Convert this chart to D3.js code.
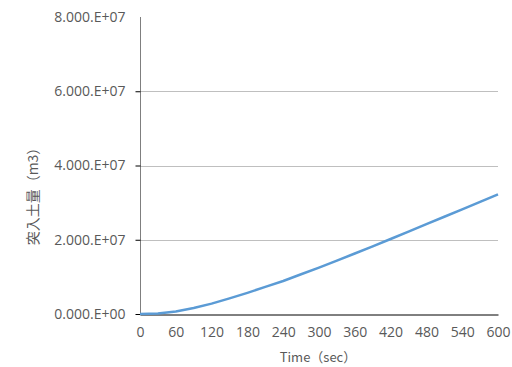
<!DOCTYPE html>
<html>
<head>
<meta charset="utf-8">
<script src="https://cdn.jsdelivr.net/npm/d3@7"></script>
<style>
  body { margin: 0; background: #fff; }
  svg { display: block; }
</style>
</head>
<body>
<div id="chart"></div>
<script>
// time (sec) and cumulative inflow volume
var times = [0, 30, 60, 90, 120, 150, 180, 210, 240, 270, 300, 330, 360, 390, 420, 450, 480, 510, 540, 570, 600];
var volumes = [0, 0.015e7, 0.07e7, 0.16e7, 0.28e7, 0.42e7, 0.57e7, 0.73e7, 0.89e7, 1.07e7, 1.25e7,
               1.44e7, 1.63e7, 1.82e7, 2.02e7, 2.22e7, 2.42e7, 2.62e7, 2.82e7, 3.02e7, 3.22e7];
var xTicks = [0, 60, 120, 180, 240, 300, 360, 420, 480, 540, 600];
var yTicks = [0, 2e7, 4e7, 6e7, 8e7];

var width = 512, height = 367;
var margin = {top: 17, right: 14, bottom: 53, left: 140};

var svg = d3.select("#chart")
  .append("svg")
  .attr("width", width)
  .attr("height", height);

var x = d3.scaleLinear()
  .domain([0, 600])
  .range([margin.left, width - margin.right]);

var y = d3.scaleLinear()
  .domain([0, 8e7])
  .range([height - margin.bottom, margin.top]);

// excel-ish label 8.000.E+07
function fmt(v) {
  if (v == 0) return "0.000.E+00";
  var e = Math.floor(Math.log10(v));
  var m = v / Math.pow(10, e);
  return m.toFixed(3) + ".E+" + (e < 10 ? "0" + e : e);
}

// gridlines (none at the top value)
svg.append("g")
  .selectAll("line")
  .data(yTicks.filter(function(d) { return d > 0 && d < 8e7; }))
  .enter()
  .append("line")
    .attr("x1", x(0))
    .attr("x2", x(600))
    .attr("y1", function(d) { return Math.round(y(d)) + 0.5; })
    .attr("y2", function(d) { return Math.round(y(d)) + 0.5; })
    .attr("stroke", "#bfbfbf")
    .attr("stroke-width", 1);

// y axis
var yAxis = svg.append("g")
  .attr("transform", "translate(" + (x(0) + 0.5) + ",0)")
  .call(d3.axisLeft(y).tickValues(yTicks).tickSize(5).tickFormat(fmt).tickPadding(10));
yAxis.select(".domain").attr("stroke", "#7f7f7f").attr("d", "M0," + y(8e7) + "V" + y(0));
yAxis.selectAll(".tick line").attr("stroke", "#000");
yAxis.selectAll(".tick text")
  .attr("fill", "#595959")
  .style("font-family", "'Open Sans', sans-serif")
  .style("font-size", "14px");
yAxis.selectAll(".tick").filter(function(d) { return d == 8e7; }).select("line").remove();

// x axis
var xAxis = svg.append("g")
  .attr("transform", "translate(0," + (Math.round(y(0)) + 0.5) + ")")
  .call(d3.axisBottom(x).tickValues(xTicks).tickSize(0).tickPadding(13));
xAxis.select(".domain").attr("stroke", "#000");
xAxis.selectAll(".tick text")
  .attr("fill", "#595959")
  .style("font-family", "'Open Sans', sans-serif")
  .style("font-size", "14px");

// the curve
var line = d3.line()
  .x(function(d, i) { return x(times[i]); })
  .y(function(d) { return y(d); });

svg.append("path")
  .datum(volumes)
  .attr("d", line)
  .attr("fill", "none")
  .attr("stroke", "#5b9bd5")
  .attr("stroke-width", 2.5)
  .attr("stroke-linejoin", "round");

// axis titles
svg.append("text")
  .attr("x", 318)
  .attr("y", 362)
  .attr("text-anchor", "middle")
  .attr("fill", "#595959")
  .style("font-family", "'Noto Sans CJK JP', sans-serif")
  .style("font-size", "13px")
  .text("Time（sec）");

svg.append("text")
  .attr("transform", "translate(38,193) rotate(-90)")
  .attr("text-anchor", "middle")
  .attr("fill", "#595959")
  .style("font-family", "'Noto Sans CJK JP', sans-serif")
  .style("font-size", "14px")
  .text("突入土量（m3）");
</script>
</body>
</html>
